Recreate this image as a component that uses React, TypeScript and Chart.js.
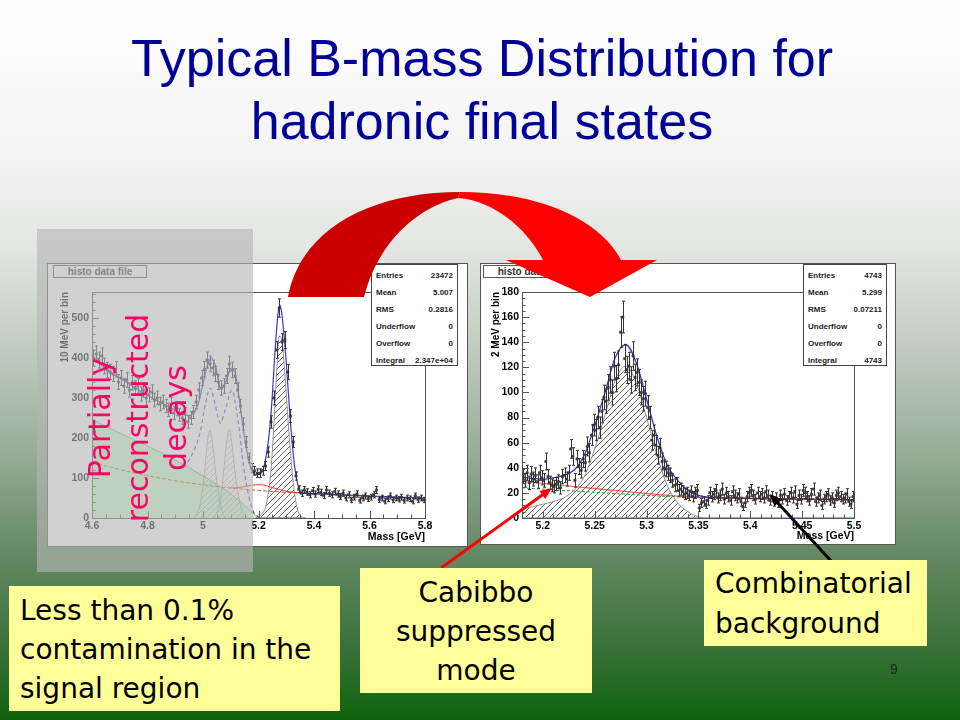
import React, { useEffect, useRef } from "react";
import { Chart, registerables } from "chart.js";

Chart.register(...registerables);

// ---------------- Left histogram: 10 MeV bins, 4.6 - 5.8 GeV ----------------
const leftRange = [4.6, 5.8];
const leftBinWidth = 0.01;
const leftCounts = [
  400, 410, 395, 405, 380, 370, 365, 360, 372, 340,
  350, 330, 345, 320, 338, 325, 330, 310, 320, 300,
  308, 315, 295, 300, 285, 290, 280, 270, 285, 262,
  272, 258, 250, 260, 240, 250, 265, 290, 320, 350,
  372, 395, 385, 375, 360, 340, 325, 330, 355, 385,
  370, 355, 320, 280, 235, 190, 150, 125, 118, 112,
  112, 118, 130, 165, 240, 300, 420, 525, 440, 445,
  365, 255, 190, 105, 72, 62, 70, 65, 58, 68,
  60, 72, 64, 56, 70, 62, 58, 66, 60, 54,
  62, 50, 58, 45, 52, 60, 44, 50, 55, 48,
  52, 58, 70, 46, 50, 42, 48, 55, 45, 50,
  47, 52, 44, 50, 48, 42, 55, 46, 50, 45,
];
const leftTotalX = [4.6, 4.65, 4.7, 4.75, 4.8, 4.85, 4.9, 4.95, 4.98, 5.0, 5.02, 5.03, 5.045, 5.065, 5.085, 5.1, 5.115, 5.13, 5.15, 5.17, 5.19, 5.21, 5.23, 5.245, 5.26, 5.27, 5.277, 5.285, 5.3, 5.315, 5.33, 5.345, 5.36, 5.4, 5.5, 5.6, 5.7, 5.8];
const leftTotalY = [405, 372, 350, 328, 306, 288, 270, 256, 280, 335, 390, 400, 380, 322, 345, 375, 365, 300, 200, 130, 108, 113, 165, 260, 420, 510, 533, 505, 390, 240, 130, 75, 63, 61, 58, 55, 52, 50];
const leftLowerX = [4.93, 4.96, 4.99, 5.01, 5.026, 5.045, 5.062, 5.08, 5.104, 5.125, 5.146, 5.165, 5.182, 5.2];
const leftLowerY = [125, 158, 215, 290, 325, 280, 237, 270, 320, 250, 130, 55, 15, 3];
const leftPeak1X = [4.97, 4.99, 5.005, 5.015, 5.025, 5.035, 5.05, 5.065, 5.08];
const leftPeak1Y = [0, 35, 110, 185, 220, 180, 90, 25, 0];
const leftPeak2X = [5.04, 5.06, 5.075, 5.085, 5.095, 5.105, 5.12, 5.14, 5.16];
const leftPeak2Y = [0, 35, 120, 190, 222, 180, 90, 20, 0];
const leftPartialX = [4.6, 4.7, 4.8, 4.9, 5.0, 5.1, 5.15, 5.19, 5.2];
const leftPartialY = [246, 212, 180, 145, 105, 60, 32, 6, 0];
const leftBgX = [4.6, 4.7, 4.8, 4.9, 5.0, 5.1, 5.2, 5.3, 5.4, 5.5, 5.6, 5.7, 5.8];
const leftBgY = [140, 121, 106, 93, 83, 75, 69, 64, 60, 57, 54, 51, 49];
const leftCabibboX = [5.1, 5.13, 5.16, 5.19, 5.21, 5.24, 5.27, 5.3, 5.33, 5.36];
const leftCabibboY = [75, 76, 80, 83, 83, 78, 72, 67, 64, 62];
const leftSignalX = [5.19, 5.21, 5.23, 5.245, 5.255, 5.265, 5.275, 5.285, 5.295, 5.31, 5.325, 5.34, 5.36];
const leftSignalY = [0, 8, 40, 120, 230, 360, 455, 440, 360, 210, 90, 22, 0];
const leftBaseX = [5.19, 5.37];
const leftBaseY = [0, 0];
const leftStatLabels = ["Entries", "Mean", "RMS", "Underflow", "Overflow", "Integral"];
const leftStatValues = ["23472", "5.007", "0.2816", "0", "0", "2.347e+04"];

// ---------------- Right histogram: 2 MeV bins, 5.18 - 5.5 GeV ----------------
const rightRange = [5.18, 5.5];
const rightBinWidth = 0.002;
const rightCounts = [
  33, 30, 36, 28, 35, 31, 34, 29, 36, 32,
  30, 45, 33, 28, 26, 25, 27, 29, 24, 33,
  34, 31, 36, 55, 49, 30, 47, 41, 38, 47,
  44, 57, 52, 66, 74, 70, 80, 72, 85, 96,
  93, 104, 110, 100, 121, 111, 122, 148, 160, 127,
  118, 121, 110, 129, 112, 116, 108, 100, 95, 99,
  88, 80, 62, 66, 58, 50, 56, 45, 40, 39,
  36, 34, 30, 26, 27, 22, 23, 21, 19, 20,
  18, 21, 17, 20, 22, 8, 12, 13, 11, 14,
  20, 17, 19, 22, 16, 18, 23, 15, 20, 17,
  14, 21, 18, 16, 19, 13, 9, 12, 17, 20,
  22, 18, 15, 20, 17, 19, 16, 21, 18, 14,
  17, 13, 16, 12, 18, 15, 19, 14, 17, 20,
  16, 21, 11, 18, 15, 22, 20, 17, 14, 19,
  23, 13, 16, 18, 10, 15, 17, 19, 14, 16,
  12, 18, 20, 17, 15, 16, 19, 13, 11, 17,
];
const rightTotalX = [5.18, 5.19, 5.2, 5.21, 5.22, 5.23, 5.24, 5.25, 5.26, 5.27, 5.28, 5.29, 5.3, 5.31, 5.32, 5.33, 5.34, 5.35, 5.36, 5.38, 5.4, 5.45, 5.5];
const rightTotalY = [32.5, 31.5, 31, 32, 34, 38, 50, 73, 100, 128, 138, 124, 95, 65, 42, 30, 22, 18, 16.5, 16, 15.5, 15, 14.5];
const rightSignalX = [5.18, 5.19, 5.2, 5.21, 5.22, 5.23, 5.24, 5.25, 5.26, 5.27, 5.28, 5.29, 5.3, 5.31, 5.32, 5.33, 5.34, 5.35, 5.355];
const rightSignalY = [7, 9, 11, 13, 16, 22, 33, 55, 82, 110, 121, 108, 80, 50, 26, 12, 5, 1, 0];
const rightBgRedX = [5.18, 5.2, 5.25, 5.3, 5.35, 5.4, 5.45, 5.5];
const rightBgRedY = [29, 27.5, 23.5, 19.5, 16.5, 15.8, 15.2, 14.5];
const rightCombX = [5.18, 5.25, 5.3, 5.35, 5.4, 5.5];
const rightCombY = [24, 20.5, 18, 16.3, 15.8, 14.5];
const rightBaseX = [5.18, 5.5];
const rightBaseY = [0, 0];
const rightStatLabels = ["Entries", "Mean", "RMS", "Underflow", "Overflow", "Integral"];
const rightStatValues = ["4743", "5.299", "0.07211", "0", "0", "4743"];

// ---------------- helpers ----------------
const pts = (xs: number[], ys: number[]) => xs.map((x, i) => ({ x, y: ys[i] }));
const histPoints = (range: number[], w: number, counts: number[]) =>
  counts.map((c, i) => ({ x: range[0] + w * (i + 0.5), y: c }));

function hatch(color: string) {
  const c = document.createElement("canvas");
  c.width = 6;
  c.height = 6;
  const g = c.getContext("2d")!;
  g.strokeStyle = color;
  g.lineWidth = 0.8;
  g.beginPath();
  g.moveTo(0, 6);
  g.lineTo(6, 0);
  g.moveTo(-1, 1);
  g.lineTo(1, -1);
  g.moveTo(5, 7);
  g.lineTo(7, 5);
  g.stroke();
  return g.createPattern(c, "repeat");
}

const errorBarPlugin = {
  id: "errbars",
  afterDatasetDraw(chart: any, args: any) {
    const ds = chart.data.datasets[args.index];
    if (!ds.errorBars) return;
    const { ctx, chartArea: a } = chart;
    const xs = chart.scales.x;
    const ys = chart.scales.y;
    ctx.save();
    ctx.beginPath();
    ctx.rect(a.left, a.top, a.right - a.left, a.bottom - a.top);
    ctx.clip();
    ctx.strokeStyle = ds.errorColor;
    ctx.lineWidth = 1;
    ctx.beginPath();
    for (const p of ds.data) {
      const e = Math.sqrt(p.y);
      const px = Math.round(xs.getPixelForValue(p.x)) + 0.5;
      const y1 = ys.getPixelForValue(p.y - e);
      const y2 = ys.getPixelForValue(p.y + e);
      ctx.moveTo(px, y1);
      ctx.lineTo(px, y2);
      ctx.moveTo(px - 1.5, y1);
      ctx.lineTo(px + 1.5, y1);
      ctx.moveTo(px - 1.5, y2);
      ctx.lineTo(px + 1.5, y2);
    }
    ctx.stroke();
    ctx.restore();
  },
};

const rootAxesPlugin = {
  id: "rootAxes",
  afterDatasetsDraw(chart: any, _args: any, opts: any) {
    const { ctx, chartArea: a } = chart;
    const xs = chart.scales.x;
    const ys = chart.scales.y;
    ctx.save();
    ctx.strokeStyle = opts.color;
    ctx.lineWidth = 1;
    ctx.beginPath();
    const draw = (scale: any, step: number, major: number, isX: boolean) => {
      const i0 = Math.ceil(scale.min / step - 1e-6);
      const i1 = Math.floor(scale.max / step + 1e-6);
      for (let i = i0; i <= i1; i++) {
        const v = i * step;
        const r = v / major;
        const isMajor = Math.abs(r - Math.round(r)) < 1e-6;
        const len = isMajor ? 7 : 3.5;
        if (isX) {
          const px = Math.round(scale.getPixelForValue(v)) + 0.5;
          ctx.moveTo(px, a.bottom);
          ctx.lineTo(px, a.bottom - len);
        } else {
          const py = Math.round(scale.getPixelForValue(v)) + 0.5;
          ctx.moveTo(a.left, py);
          ctx.lineTo(a.left + len, py);
        }
      }
    };
    draw(xs, opts.xMinor, opts.xMajor, true);
    draw(ys, opts.yMinor, opts.yMajor, false);
    ctx.stroke();
    ctx.strokeRect(Math.round(a.left) + 0.5, Math.round(a.top) + 0.5, Math.round(a.right - a.left), Math.round(a.bottom - a.top));
    ctx.restore();
  },
};

const AXIS_FONT = { family: "'Liberation Sans', Arial, sans-serif", size: 10.5, weight: "bold" as const };
const fmt = (v: any) => String(parseFloat(Number(v).toFixed(3)));

function makeOptions(p: any) {
  return {
    responsive: false,
    animation: false,
    events: [],
    layout: { padding: { left: 0, right: p.padR, top: p.padT, bottom: 0 } },
    plugins: {
      legend: { display: false },
      tooltip: { enabled: false },
      rootAxes: { color: "#555", xMajor: p.xStep, xMinor: p.xMinor, yMajor: p.yStep, yMinor: p.yMinor },
    },
    scales: {
      x: {
        type: "linear",
        min: p.xMin,
        max: p.xMax,
        grid: { display: false, drawTicks: false },
        border: { display: false },
        ticks: { stepSize: p.xStep, includeBounds: false, padding: 2, color: "#000", font: AXIS_FONT, maxRotation: 0, autoSkip: false, callback: fmt },
        title: { display: true, text: "Mass [GeV]", align: "end", color: "#000", font: AXIS_FONT, padding: { top: 0, bottom: p.xTitlePad } },
        afterFit: (s: any) => {
          s.height = p.padB;
        },
      },
      y: {
        type: "linear",
        min: 0,
        max: p.yMax,
        grid: { display: false, drawTicks: false },
        border: { display: false },
        ticks: { stepSize: p.yStep, includeBounds: false, padding: 3, color: "#000", font: AXIS_FONT, autoSkip: false, callback: fmt },
        title: { display: true, text: p.yTitle, align: "end", color: "#000", font: { ...AXIS_FONT, size: 10 }, padding: { top: p.yTitlePad, bottom: 0 } },
        afterFit: (s: any) => {
          s.width = p.padL;
        },
      },
    },
  };
}

const dataSet = (data: any[]) => ({
  data,
  showLine: false,
  pointStyle: "rect",
  pointRadius: 1.6,
  pointBackgroundColor: "#444",
  pointBorderColor: "#222",
  pointBorderWidth: 0.5,
  errorBars: true,
  errorColor: "#333",
});
const curve = (data: any[], color: string, width: number, dash: number[] = []) => ({
  data,
  showLine: true,
  pointRadius: 0,
  borderColor: color,
  borderWidth: width,
  borderDash: dash,
  fill: false,
  cubicInterpolationMode: "monotone",
});
const area = (data: any[], fillStyle: any, line: string) => ({
  data,
  showLine: true,
  pointRadius: 0,
  borderColor: line,
  borderWidth: 0.8,
  backgroundColor: fillStyle,
  fill: "origin",
  cubicInterpolationMode: "monotone",
});

function StatBox({ left, top, width, labels, values }: any) {
  return (
    <div
      style={{
        position: "absolute", left, top, width, height: 102, boxSizing: "border-box",
        border: "1px solid #444", background: "#fff", paddingTop: 2,
        font: "bold 8px 'Liberation Sans', Arial, sans-serif", color: "#222",
      }}
    >
      {labels.map((l: string, i: number) => (
        <div key={l} style={{ display: "flex", justifyContent: "space-between", height: 17, lineHeight: "17px", padding: "0 4px" }}>
          <span>{l}</span>
          <span>{values[i]}</span>
        </div>
      ))}
    </div>
  );
}

function HistoLabel({ left, top }: any) {
  return (
    <div
      style={{
        position: "absolute", left, top, width: 94, height: 13, boxSizing: "border-box",
        border: "1px solid #555", background: "#fff", textAlign: "center",
        font: "bold 10px 'Liberation Sans', Arial, sans-serif", lineHeight: "11px", color: "#333",
      }}
    >
      histo data file
    </div>
  );
}

const yellowBox: any = {
  position: "absolute", background: "#ffff99", boxSizing: "border-box",
  font: "28px 'DejaVu Sans', sans-serif", color: "#000", lineHeight: "39px", whiteSpace: "nowrap",
};

export default function App() {
  const leftRef = useRef<HTMLCanvasElement>(null);
  const rightRef = useRef<HTMLCanvasElement>(null);

  useEffect(() => {
    const darkHatch = hatch("#444");
    const grayHatch = hatch("#aaa");
    const left = new Chart(leftRef.current!, {
      type: "line",
      data: {
        datasets: [
          dataSet(histPoints(leftRange, leftBinWidth, leftCounts)),
          curve(pts(leftTotalX, leftTotalY), "#3838c8", 1.2),
          curve(pts(leftCabibboX, leftCabibboY), "#ff3030", 1),
          curve(pts(leftBgX, leftBgY), "#c06020", 1, [4, 2]),
          curve(pts(leftLowerX, leftLowerY), "#5050a8", 1.2, [4, 3]),
          curve(pts(leftBaseX, leftBaseY), "#22dd22", 1.5),
          area(pts(leftSignalX, leftSignalY), darkHatch, "#777"),
          area(pts(leftPeak1X, leftPeak1Y), grayHatch, "#999"),
          area(pts(leftPeak2X, leftPeak2Y), grayHatch, "#999"),
          area(pts(leftPartialX, leftPartialY), "rgba(200,255,200,0.9)", "#6a9a6a"),
        ] as any,
      },
      options: makeOptions({
        xMin: leftRange[0], xMax: leftRange[1], xStep: 0.2, xMinor: 0.05,
        yMax: 565, yStep: 100, yMinor: 20,
        padL: 45, padR: 43, padT: 29, padB: 29,
        yTitle: "10 MeV per bin", yTitlePad: 12, xTitlePad: 4,
      }) as any,
      plugins: [errorBarPlugin, rootAxesPlugin] as any,
    });
    const right = new Chart(rightRef.current!, {
      type: "line",
      data: {
        datasets: [
          dataSet(histPoints(rightRange, rightBinWidth, rightCounts)),
          curve(pts(rightBgRedX, rightBgRedY), "rgba(255,0,0,0.6)", 1.3),
          curve(pts(rightTotalX, rightTotalY), "#3030d0", 1.3),
          curve(pts(rightCombX, rightCombY), "#2a9a2a", 1, [3, 2]),
          curve(pts(rightBaseX, rightBaseY), "#33dd33", 1.5),
          area(pts(rightSignalX, rightSignalY), darkHatch, "#777"),
        ] as any,
      },
      options: makeOptions({
        xMin: rightRange[0], xMax: rightRange[1], xStep: 0.05, xMinor: 0.01,
        yMax: 180, yStep: 20, yMinor: 5,
        padL: 42, padR: 42, padT: 29, padB: 27,
        yTitle: "2 MeV per bin", yTitlePad: 10, xTitlePad: 3,
      }) as any,
      plugins: [errorBarPlugin, rootAxesPlugin] as any,
    });
    return () => {
      left.destroy();
      right.destroy();
    };
  }, []);

  return (
    <div
      style={{
        position: "absolute", left: 0, top: 0, width: 960, height: 720, overflow: "hidden",
        background:
          "linear-gradient(to bottom, #ffffff 0px, #f4f4f4 150px, #e2e5e2 250px, #c0cbc0 350px, #98ae98 450px, #668a66 550px, #3d733d 640px, #0f620f 720px)",
      }}
    >
      <div
        style={{
          position: "absolute", left: 0, top: 27, width: 964, textAlign: "center",
          font: "52px 'Liberation Sans', Arial, sans-serif", lineHeight: "63px", color: "#000099",
        }}
      >
        Typical B-mass Distribution for
        <br />
        hadronic final states
      </div>

      <div style={{ position: "absolute", left: 47, top: 263, width: 421, height: 284, background: "#fff" }}>
        <canvas ref={leftRef} width={421} height={284} style={{ display: "block" }} />
      </div>
      <div style={{ position: "absolute", left: 47, top: 263, width: 421, height: 284, border: "1px solid #555", boxSizing: "border-box" }} />
      <HistoLabel left={53} top={265} />
      <StatBox left={371} top={264} width={87} labels={leftStatLabels} values={leftStatValues} />

      <div style={{ position: "absolute", left: 480, top: 263, width: 416, height: 282, background: "#fff" }}>
        <canvas ref={rightRef} width={416} height={282} style={{ display: "block" }} />
      </div>
      <div style={{ position: "absolute", left: 480, top: 263, width: 416, height: 282, border: "1px solid #555", boxSizing: "border-box" }} />
      <HistoLabel left={483} top={265} />
      <StatBox left={803} top={264} width={84} labels={rightStatLabels} values={rightStatValues} />

      <div style={{ position: "absolute", left: 37, top: 229, width: 216, height: 343, background: "rgba(180,180,180,0.62)" }} />
      <div
        style={{
          position: "absolute", left: 138 - 130, top: 418 - 57, width: 260, height: 114,
          transform: "rotate(-90deg)", transformOrigin: "130px 57px", textAlign: "center",
          font: "30px 'DejaVu Sans', sans-serif", lineHeight: "38px", color: "#ff0066", whiteSpace: "nowrap",
        }}
      >
        Partially
        <br />
        reconstructed
        <br />
        decays
      </div>

      <svg width={960} height={720} style={{ position: "absolute", left: 0, top: 0, pointerEvents: "none" }}>
        <path d="M288 297 C300 230 370 192 460 192 L458 198 C425 205 380 235 364 297 Z" fill="#cc0000" />
        <path d="M460 192 C540 192 600 220 621 260 L657 260 L590 297 L506 260 L543 260 C525 225 490 200 458 198 Z" fill="#ff0000" />
        <line x1={441} y1={568} x2={545} y2={493} stroke="#ff0000" strokeWidth={3} />
        <polygon points="552,488 545.2,499.1 539.4,490.9" fill="#ff0000" />
        <line x1={832} y1={562} x2={776} y2={501} stroke="#000" strokeWidth={3} />
        <polygon points="770,494 781.8,499.5 774.4,506.3" fill="#000" />
      </svg>

      <div style={{ ...yellowBox, left: 9, top: 586, width: 331, height: 125, padding: "5px 0 0 11px" }}>
        Less than 0.1%
        <br />
        contamination in the
        <br />
        signal region
      </div>
      <div style={{ ...yellowBox, left: 360, top: 568, width: 232, height: 125, paddingTop: 5, textAlign: "center" }}>
        Cabibbo
        <br />
        suppressed
        <br />
        mode
      </div>
      <div style={{ ...yellowBox, left: 704, top: 560, width: 223, height: 86, padding: "4px 0 0 11px", lineHeight: "40px" }}>
        Combinatorial
        <br />
        background
      </div>
      <div style={{ position: "absolute", left: 890, top: 661, font: "14px 'Liberation Sans', Arial, sans-serif", color: "#222" }}>9</div>
    </div>
  );
}
